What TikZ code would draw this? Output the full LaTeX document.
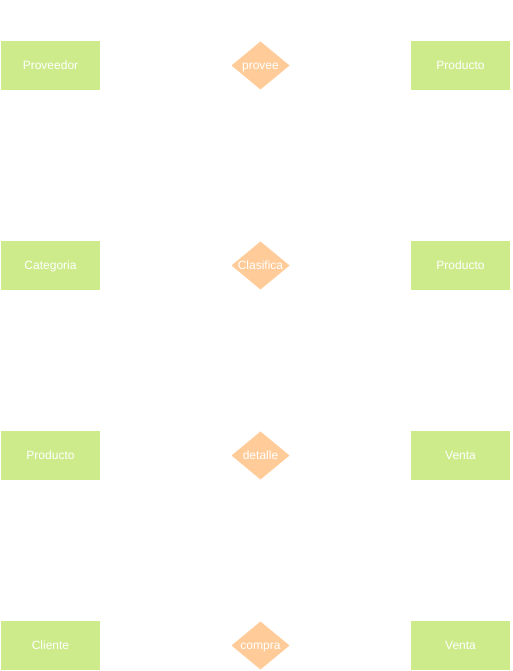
\documentclass[tikz,border=0pt]{standalone}
\usepackage{fontspec}
\setmainfont{Liberation Sans}
\definecolor{entgreen}{HTML}{CDEB8B}
\definecolor{relorange}{HTML}{FFCC99}
\begin{document}
\begin{tikzpicture}[x=1pt,y=-1pt,
  label text/.style={text=white, font=\fontsize{12}{14}\selectfont, text height=9pt, text depth=1pt, inner sep=0pt},
  entity/.style={rectangle, fill=entgreen, draw=none, minimum width=99pt, minimum height=49pt, label text},
  relation/.style={rectangle, draw=none, minimum width=58pt, minimum height=48pt, label text,
    path picture={\fill[relorange] (path picture bounding box.north) -- (path picture bounding box.east) -- (path picture bounding box.south) -- (path picture bounding box.west) -- cycle;}}]
\useasboundingbox (0,0) rectangle (512,671);
\node[entity] (proveedor) at (50.5,65.5) {Proveedor};
\node[relation] (provee) at (260.5,65.5) {provee};
\node[entity] (producto1) at (460.5,65.5) {Producto};
\node[entity] (categoria) at (50.5,265.5) {Categoria};
\node[relation] (clasifica) at (260.5,265.5) {Clasifica};
\node[entity] (producto2) at (460.5,265.5) {Producto};
\node[entity] (producto3) at (50.5,455.5) {Producto};
\node[relation] (detalle) at (260.5,455.5) {detalle};
\node[entity] (venta1) at (460.5,455.5) {Venta};
\node[entity] (cliente) at (50.5,645.5) {Cliente};
\node[relation] (compra) at (260.5,645.5) {compra};
\node[entity] (venta2) at (460.5,645.5) {Venta};
\end{tikzpicture}
\end{document}
